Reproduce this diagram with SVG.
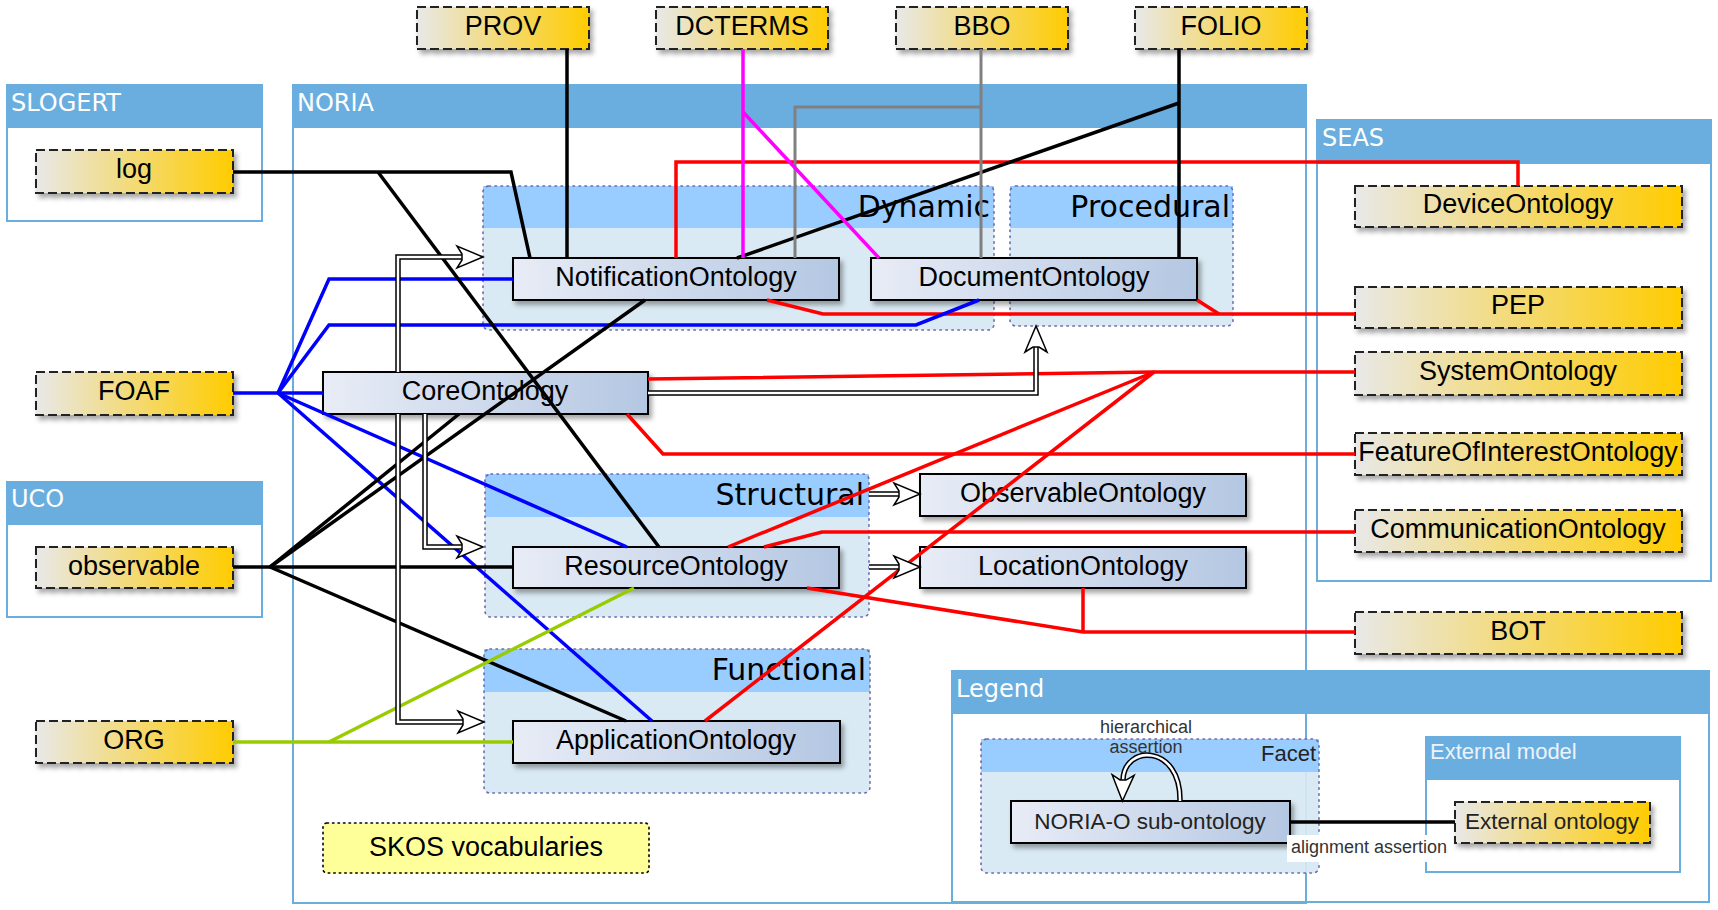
<svg xmlns="http://www.w3.org/2000/svg" width="1718" height="910" viewBox="0 0 1718 910">
<style>
.c{fill:#fff;stroke:#6aaee0;stroke-width:2}
.ch{fill:#6aaee0}
.ct{font-family:"DejaVu Sans",Verdana,sans-serif;font-size:24px;fill:#fff}
.fb{fill:#d7e8f3;opacity:0.92}
.fh{fill:#99ccff}
.fo{fill:none;stroke:#6a6aa8;stroke-width:1.6;stroke-dasharray:1.5 4.5;stroke-linecap:round}
.ft{font-family:"DejaVu Sans",Verdana,sans-serif;font-size:30px;fill:#000;text-anchor:end}
.ni{fill:url(#gInt);stroke:#000;stroke-width:2;filter:url(#sh)}
.ne{fill:url(#gExt);stroke:#222;stroke-width:2;stroke-dasharray:9 4;filter:url(#sh)}
.nt{font-family:"Liberation Sans",Arial,sans-serif;font-size:27px;fill:#000;text-anchor:middle}
.lt{font-family:"Liberation Sans",Arial,sans-serif;font-size:22.5px;fill:#222;text-anchor:middle}
.sm{font-family:"Liberation Sans",Arial,sans-serif;font-size:18px;fill:#333;text-anchor:middle}
#conn path{fill:none;stroke-linejoin:miter}
.k{stroke:#000;stroke-width:3.5}
.b{stroke:#0000ff;stroke-width:3.5}
.r{stroke:#ff0000;stroke-width:3.5}
.m{stroke:#ff00ff;stroke-width:3.5}
.g{stroke:#808080;stroke-width:3}
.gr{stroke:#99cc00;stroke-width:3.5}
.hb{stroke:#000;stroke-width:5.5}
.hw{stroke:#fff;stroke-width:2.5;marker-end:url(#hh)}
</style>
<defs>
<linearGradient id="gInt" x1="0" y1="0" x2="1" y2="0"><stop offset="0" stop-color="#e8ecf6"/><stop offset="1" stop-color="#b4c7e2"/></linearGradient>
<linearGradient id="gExt" x1="0" y1="0" x2="1" y2="0"><stop offset="0" stop-color="#e8e8e8"/><stop offset="1" stop-color="#ffcc00"/></linearGradient>
<filter id="sh" x="-10%" y="-30%" width="130%" height="180%"><feDropShadow dx="3" dy="4" stdDeviation="2.5" flood-color="#000" flood-opacity="0.35"/></filter>
<marker id="hh" markerUnits="userSpaceOnUse" viewBox="-10 -14 34 28" markerWidth="34" markerHeight="28" refX="0" refY="0" orient="auto"><path d="M21,0 L-5,-11 L0,-3 L0,3 L-5,11 Z" fill="#fff" stroke="#000" stroke-width="1.5"/></marker>
</defs>

<!-- containers -->
<g id="noria"><rect class="c" x="293" y="85" width="1013" height="818"/><rect class="ch" x="293" y="85" width="1013" height="43"/><text class="ct" x="297" y="111">NORIA</text></g>
<g id="slogert"><rect class="c" x="7" y="85" width="255" height="136"/><rect class="ch" x="7" y="85" width="255" height="43"/><text class="ct" x="11" y="111">SLOGERT</text></g>
<g id="uco"><rect class="c" x="7" y="482" width="255" height="135"/><rect class="ch" x="7" y="482" width="255" height="43"/><text class="ct" x="11" y="507">UCO</text></g>
<g id="seas"><rect class="c" x="1317" y="120" width="394" height="461"/><rect class="ch" x="1317" y="120" width="394" height="44"/><text class="ct" x="1322" y="146">SEAS</text></g>
<g id="legend"><rect class="c" x="952" y="671" width="757" height="231"/><rect class="ch" x="952" y="671" width="757" height="43"/><text class="ct" x="956" y="697">Legend</text></g>
<rect x="293" y="85" width="1013" height="818" fill="none" stroke="#6aaee0" stroke-width="2"/>

<!-- facets -->
<g id="f-dynamic"><rect class="fb" x="483" y="186" width="511" height="144" rx="6"/><rect class="fh" x="483" y="186" width="511" height="42"/><rect class="fo" x="483" y="186" width="511" height="144" rx="6"/><text class="ft" x="990" y="217">Dynamic</text></g>
<g id="f-procedural"><rect class="fb" x="1010" y="186" width="223" height="140" rx="6"/><rect class="fh" x="1010" y="186" width="223" height="42"/><rect class="fo" x="1010" y="186" width="223" height="140" rx="6"/><text class="ft" x="1230" y="217">Procedural</text></g>
<g id="f-structural"><rect class="fb" x="485" y="474" width="384" height="143" rx="6"/><rect class="fh" x="485" y="474" width="384" height="43"/><rect class="fo" x="485" y="474" width="384" height="143" rx="6"/><text class="ft" x="864" y="505">Structural</text></g>
<g id="f-functional"><rect class="fb" x="484" y="649" width="386" height="144" rx="6"/><rect class="fh" x="484" y="649" width="386" height="43"/><rect class="fo" x="484" y="649" width="386" height="144" rx="6"/><text class="ft" x="866" y="680">Functional</text></g>
<g id="f-legend"><rect class="fb" x="981" y="739" width="338" height="134" rx="6"/><rect class="fh" x="981" y="739" width="338" height="33"/><rect class="fo" x="981" y="739" width="338" height="134" rx="6"/><text x="1316" y="761" font-family="Liberation Sans, Arial, sans-serif" font-size="22" fill="#222" text-anchor="end">Facet</text></g>
<g id="extmodel"><rect class="c" x="1426" y="737" width="254" height="135"/><rect class="ch" x="1426" y="737" width="254" height="43"/><text x="1430" y="759" font-family="Liberation Sans, Arial, sans-serif" font-size="22" fill="#edf3fa">External model</text></g>

<!-- internal nodes -->
<g id="n-notification"><rect class="ni" x="513" y="258" width="326" height="42"/><text class="nt" x="676" y="286">NotificationOntology</text></g>
<g id="n-document"><rect class="ni" x="871" y="258" width="326" height="42"/><text class="nt" x="1034" y="286">DocumentOntology</text></g>
<g id="n-core"><rect class="ni" x="323" y="372" width="325" height="42"/><text class="nt" x="485" y="400">CoreOntology</text></g>
<g id="n-observable"><rect class="ni" x="920" y="474" width="326" height="42"/><text class="nt" x="1083" y="502">ObservableOntology</text></g>
<g id="n-resource"><rect class="ni" x="513" y="547" width="326" height="41"/><text class="nt" x="676" y="575">ResourceOntology</text></g>
<g id="n-location"><rect class="ni" x="920" y="547" width="326" height="41"/><text class="nt" x="1083" y="575">LocationOntology</text></g>
<g id="n-application"><rect class="ni" x="513" y="721" width="327" height="42"/><text class="nt" x="676" y="749">ApplicationOntology</text></g>
<g id="n-skos"><rect x="323" y="823" width="326" height="50" rx="4" fill="#ffff99" stroke="#000" stroke-width="1.6" stroke-dasharray="1.5 4" stroke-linecap="round"/><text class="nt" x="486" y="856">SKOS vocabularies</text></g>
<g id="n-sub"><rect class="ni" x="1011" y="801" width="279" height="42"/><text class="lt" x="1150" y="829">NORIA-O sub-ontology</text></g>

<!-- external nodes -->
<g id="x-prov"><rect class="ne" x="417" y="7" width="172" height="42"/><text class="nt" x="503" y="35">PROV</text></g>
<g id="x-dcterms"><rect class="ne" x="656" y="7" width="172" height="42"/><text class="nt" x="742" y="35">DCTERMS</text></g>
<g id="x-bbo"><rect class="ne" x="896" y="7" width="172" height="42"/><text class="nt" x="982" y="35">BBO</text></g>
<g id="x-folio"><rect class="ne" x="1135" y="7" width="172" height="42"/><text class="nt" x="1221" y="35">FOLIO</text></g>
<g id="x-log"><rect class="ne" x="36" y="150" width="197" height="43"/><text class="nt" x="134" y="178">log</text></g>
<g id="x-foaf"><rect class="ne" x="36" y="372" width="197" height="43"/><text class="nt" x="134" y="400">FOAF</text></g>
<g id="x-observable"><rect class="ne" x="36" y="547" width="197" height="41"/><text class="nt" x="134" y="575">observable</text></g>
<g id="x-org"><rect class="ne" x="36" y="721" width="197" height="42"/><text class="nt" x="134" y="749">ORG</text></g>
<g id="x-device"><rect class="ne" x="1355" y="186" width="327" height="41"/><text class="nt" x="1518" y="213">DeviceOntology</text></g>
<g id="x-pep"><rect class="ne" x="1355" y="287" width="327" height="41"/><text class="nt" x="1518" y="314">PEP</text></g>
<g id="x-system"><rect class="ne" x="1355" y="352" width="327" height="43"/><text class="nt" x="1518" y="380">SystemOntology</text></g>
<g id="x-foi"><rect class="ne" x="1355" y="433" width="327" height="42"/><text class="nt" x="1518" y="461">FeatureOfInterestOntology</text></g>
<g id="x-comm"><rect class="ne" x="1355" y="510" width="327" height="42"/><text class="nt" x="1518" y="538">CommunicationOntology</text></g>
<g id="x-bot"><rect class="ne" x="1355" y="612" width="327" height="42"/><text class="nt" x="1518" y="640">BOT</text></g>
<g id="x-ext"><rect class="ne" x="1455" y="802" width="195" height="41"/><text class="lt" x="1552" y="829" font-size="22">External ontology</text></g>

<!-- connectors -->
<g id="conn">
<path class="r" d="M676,258 V162 H1518 V186"/>
<path class="r" d="M767,300 L823,314 H1355"/>
<path class="r" d="M1197,300 L1219,314"/>
<path class="r" d="M648,379 L1154,372 H1355"/>
<path class="r" d="M1154,372 L728,547"/>
<path class="r" d="M1154,372 L705,721"/>
<path class="r" d="M627,414 L663,454 H1355"/>
<path class="r" d="M764,547 L822,532 H1355"/>
<path class="r" d="M807,588 L1083,632 H1355"/>
<path class="r" d="M1083,588 V632"/>

<path class="b" d="M233,393 H278" stroke-width="5"/>
<path class="b" d="M278,393 H323"/>
<path class="b" d="M278,393 L329,279 H513"/>
<path class="b" d="M278,393 L329,325 H916 L979,300"/>
<path class="b" d="M278,393 L627,547"/>
<path class="b" d="M278,393 L652,721"/>

<path class="k" d="M567,49 V258"/>
<path class="k" d="M1179,49 V258"/>
<path class="k" d="M1179,103 L737,258"/>
<path class="k" d="M233,172 H511 L530,258"/>
<path class="k" d="M378,172 L659,547"/>
<path class="k" d="M233,567 H270" stroke-width="5"/>
<path class="k" d="M270,567 H513"/>
<path class="k" d="M270,567 L645,300"/>
<path class="k" d="M270,567 L459,414"/>
<path class="k" d="M270,567 L626,721"/>

<path class="g" d="M981,49 V258"/>
<path class="g" d="M981,107 H795 V258"/>
<path class="m" d="M743,49 V258"/>
<path class="m" d="M743,112 L879,258"/>
<path class="gr" d="M233,742 H329" stroke-width="5"/>
<path class="gr" d="M329,742 H513"/>
<path class="gr" d="M329,742 L634,588"/>

<path class="hb" d="M398,372 V257 H462"/><path class="hw" d="M398,372 V257 H462"/>
<path class="hb" d="M398,414 V722 H463"/><path class="hw" d="M398,414 V722 H463"/>
<path class="hb" d="M425,414 V547 H462"/><path class="hw" d="M425,414 V547 H462"/>
<path class="hb" d="M648,393 H1036 V347"/><path class="hw" d="M648,393 H1036 V347"/>
<path class="hb" d="M869,494 H899"/><path class="hw" d="M869,494 H899"/>
<path class="hb" d="M869,567 H899"/><path class="hw" d="M869,567 H899"/>

<path class="hb" d="M1180,801 C1181,744 1124,744 1123,780"/><path class="hw" d="M1180,801 C1181,744 1124,744 1123,780"/>
<path class="k" d="M1290,822 H1455" stroke-width="4.5"/>
<rect x="1287" y="835" width="165" height="27" fill="#fff"/>
<text class="sm" x="1369" y="853">alignment assertion</text>
<text class="sm" x="1146" y="733">hierarchical</text>
<text class="sm" x="1146" y="753">assertion</text>
</g>
</svg>
